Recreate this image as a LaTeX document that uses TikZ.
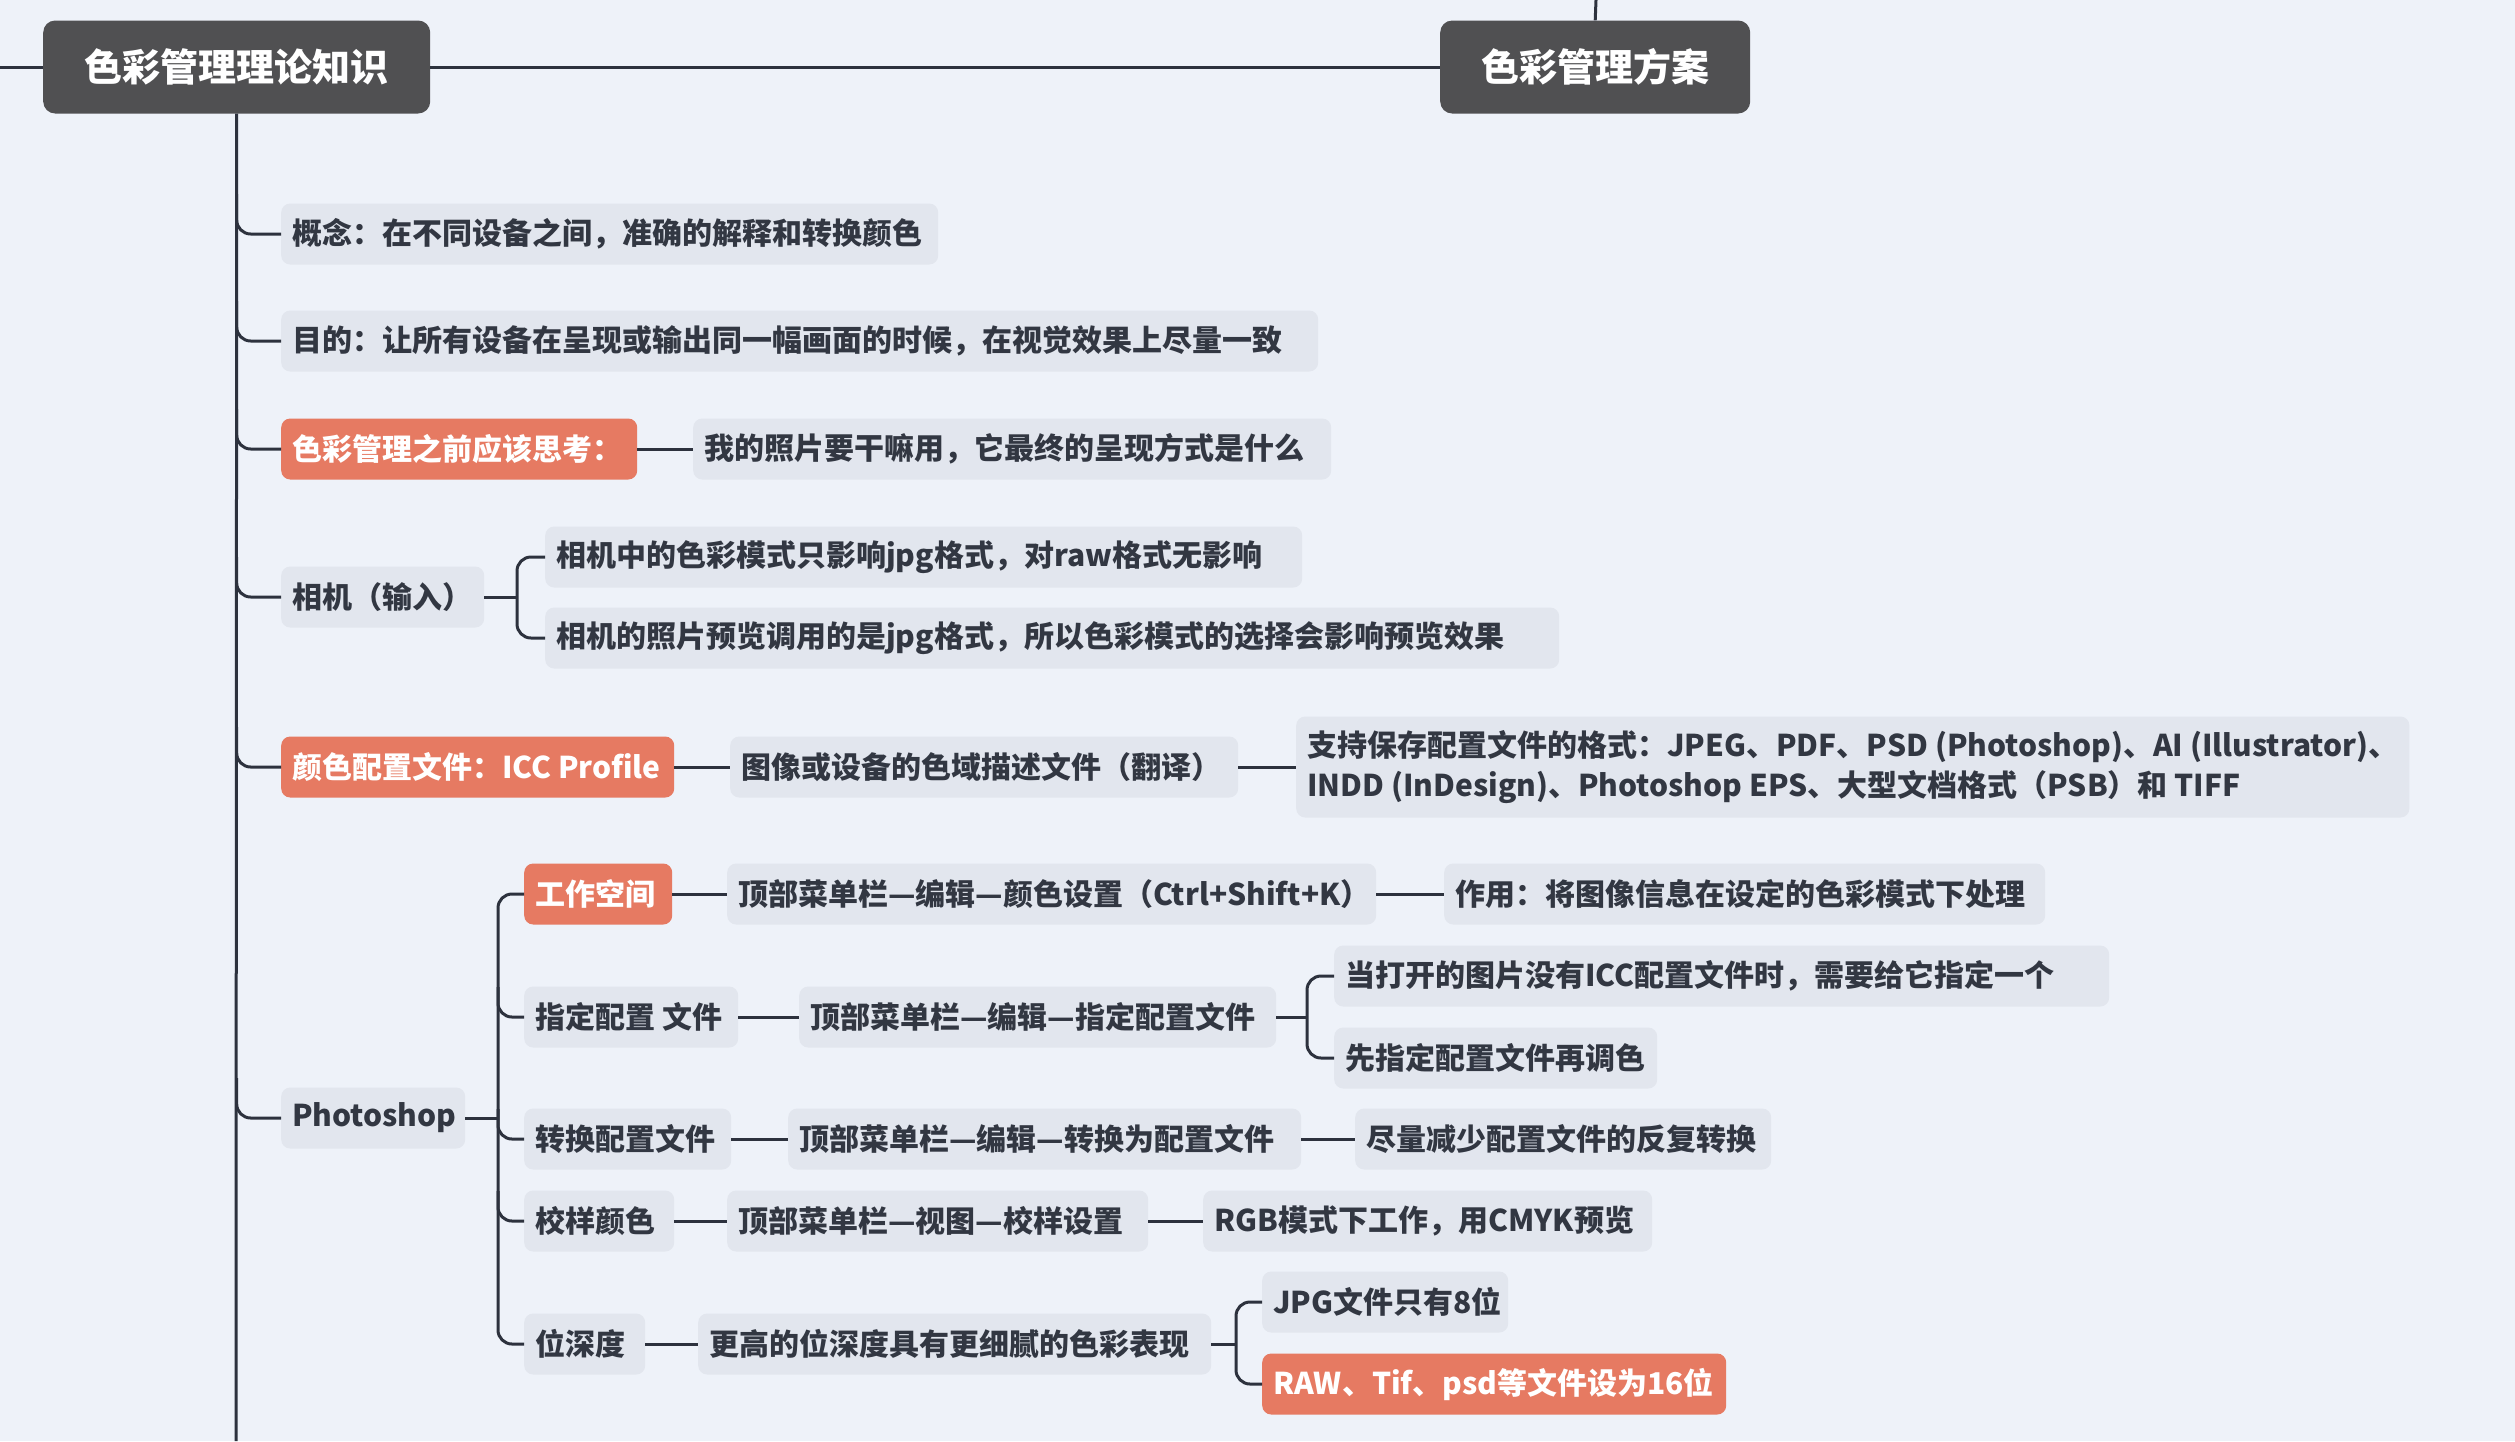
\documentclass[tikz,border=0pt]{standalone}
\usepackage{fontspec}
\setmainfont{Noto Sans CJK SC}
\definecolor{bgc}{RGB}{238,242,249}
\definecolor{boxc}{RGB}{226,230,238}
\definecolor{linec}{RGB}{45,50,62}
\definecolor{txtc}{RGB}{50,55,66}
\definecolor{orc}{RGB}{230,122,98}
\definecolor{rootc}{RGB}{80,80,82}
\newcommand\fsn{\fontsize{30pt}{40pt}\selectfont\bfseries}
\newcommand\fsr{\fontsize{38pt}{44pt}\selectfont\bfseries}
\tikzset{
  leaf/.style={fill=boxc, text=txtc, rounded corners=9pt, inner xsep=11pt, inner ysep=0pt, minimum height=61pt, anchor=west, font=\fsn},
  hot/.style={leaf, fill=orc, text=white},
  bw/.style={execute at begin node={\hbox to #1pt\bgroup}, execute at end node={\hfil\egroup}},
  rootbox/.style={fill=rootc, text=white, rounded corners=12pt, minimum height=93pt, font=\fsr, anchor=west, inner xsep=0pt},
  conn/.style={draw=linec, line width=3pt},
  branch/.style={conn, rounded corners=14pt}
}
\begin{document}
\begin{tikzpicture}[x=1pt,y=-1pt]
\path[use as bounding box, fill=bgc] (0,0) rectangle (2515,1441);
% roots
\node[rootbox, minimum width=387pt] (root) at (43,67) {色彩管理理论知识};
\node[rootbox, minimum width=310pt] (plan) at (1440,67) {色彩管理方案};
\coordinate (lft) at (0,67);
\coordinate (topend) at (1596,0);
\coordinate (bot) at (236,1441);
\draw[conn] (lft) -- (root.west);
\draw[conn] (root.east) -- (plan.west);
\draw[conn] (plan.north) -- (topend);
\draw[conn] (root.south) -- (bot);
% level 1
\node[leaf, bw=635] (n1) at (281,234) {概念：在不同设备之间，准确的解释和转换颜色};
\node[leaf, bw=1015] (n2) at (281,341) {目的：让所有设备在呈现或输出同一幅画面的时候，在视觉效果上尽量一致};
\node[hot, bw=334] (n3) at (281,449) {色彩管理之前应该思考：};
\node[leaf, bw=616] (n3a) at (693,449) {我的照片要干嘛用，它最终的呈现方式是什么};
\node[leaf, bw=181] (n4) at (281,597) {相机（输入）};
\node[leaf, bw=735] (n4a) at (545,557) {相机中的色彩模式只影响jpg格式，对raw格式无影响};
\node[leaf, bw=992] (n4b) at (545,638) {相机的照片预览调用的是jpg格式，所以色彩模式的选择会影响预览效果};
\node[hot, bw=371] (n5) at (281,767) {颜色配置文件：ICC Profile};
\node[leaf, bw=486] (n5a) at (730,767) {图像或设备的色域描述文件（翻译）};
\node[leaf, align=left, minimum height=101pt] (n5b) at (1296,767) {支持保存配置文件的格式：JPEG、PDF、PSD (Photoshop)、AI (Illustrator)、\\INDD (InDesign)、Photoshop EPS、大型文档格式（PSB）和 TIFF};
\node[leaf, bw=162] (n6) at (281,1118) {Photoshop};
% photoshop children
\node[hot, bw=126] (p1) at (524,894) {工作空间};
\node[leaf, bw=627] (p1a) at (727,894) {顶部菜单栏—编辑—颜色设置（Ctrl+Shift+K）};
\node[leaf, bw=579] (p1b) at (1444,894) {作用：将图像信息在设定的色彩模式下处理};
\node[leaf, bw=192] (p2) at (524,1017) {指定配置 文件};
\node[leaf, bw=455] (p2a) at (799,1017) {顶部菜单栏—编辑—指定配置文件};
\node[leaf, bw=753] (p2b) at (1334,976) {当打开的图片没有ICC配置文件时，需要给它指定一个};
\node[leaf, bw=301] (p2c) at (1334,1058) {先指定配置文件再调色};
\node[leaf, bw=185] (p3) at (524,1139) {转换配置文件};
\node[leaf, bw=491] (p3a) at (788,1139) {顶部菜单栏—编辑—转换为配置文件};
\node[leaf, bw=394] (p3b) at (1355,1139) {尽量减少配置文件的反复转换};
\node[leaf, bw=128] (p4) at (524,1221) {校样颜色};
\node[leaf, bw=399] (p4a) at (727,1221) {顶部菜单栏—视图—校样设置};
\node[leaf, bw=427] (p4b) at (1203,1221) {RGB模式下工作，用CMYK预览};
\node[leaf, bw=99] (p5) at (524,1344) {位深度};
\node[leaf, bw=491] (p5a) at (698,1344) {更高的位深度具有更细腻的色彩表现};
\node[leaf, bw=224] (p5b) at (1262,1302) {JPG文件只有8位};
\node[hot, bw=442] (p5c) at (1262,1384) {RAW、Tif、psd等文件设为16位};
% trunk branches
\foreach \n in {n1,n2,n3,n4,n5,n6}{
  \draw[branch] (\n.west -| root.south) ++(0,-40) |- (\n.west);
}
% chains
\draw[conn] (n3.east) -- (n3a.west);
\draw[conn] (n5.east) -- (n5a.west);
\draw[conn] (n5a.east) -- (n5b.west);
\draw[conn] (p1.east) -- (p1a.west);
\draw[conn] (p1a.east) -- (p1b.west);
\draw[conn] (p2.east) -- (p2a.west);
\draw[conn] (p3.east) -- (p3a.west);
\draw[conn] (p3a.east) -- (p3b.west);
\draw[conn] (p4.east) -- (p4a.west);
\draw[conn] (p4a.east) -- (p4b.west);
\draw[conn] (p5.east) -- (p5a.west);
% camera bracket
\coordinate (b4) at (517,597);
\draw[conn] (n4.east) -- (b4);
\draw[branch] (n4a.west) -| (b4) |- (n4b.west);
% photoshop bracket
\coordinate (b6) at (498,1118);
\draw[conn] (n6.east) -- (b6);
\draw[branch] (p1.west) -| (b6) |- (p5.west);
\draw[branch] (b6 |- p2.west) ++(0,-30) |- (p2.west);
\draw[branch] (b6 |- p3.west) ++(0,-30) |- (p3.west);
\draw[branch] (b6 |- p4.west) ++(0,-30) |- (p4.west);
% p2 bracket
\coordinate (b2) at (1307,1017);
\draw[conn] (p2a.east) -- (b2);
\draw[branch] (p2b.west) -| (b2) |- (p2c.west);
% p5 bracket
\coordinate (b5) at (1236,1344);
\draw[conn] (p5a.east) -- (b5);
\draw[branch] (p5b.west) -| (b5) |- (p5c.west);
\end{tikzpicture}
\end{document}
